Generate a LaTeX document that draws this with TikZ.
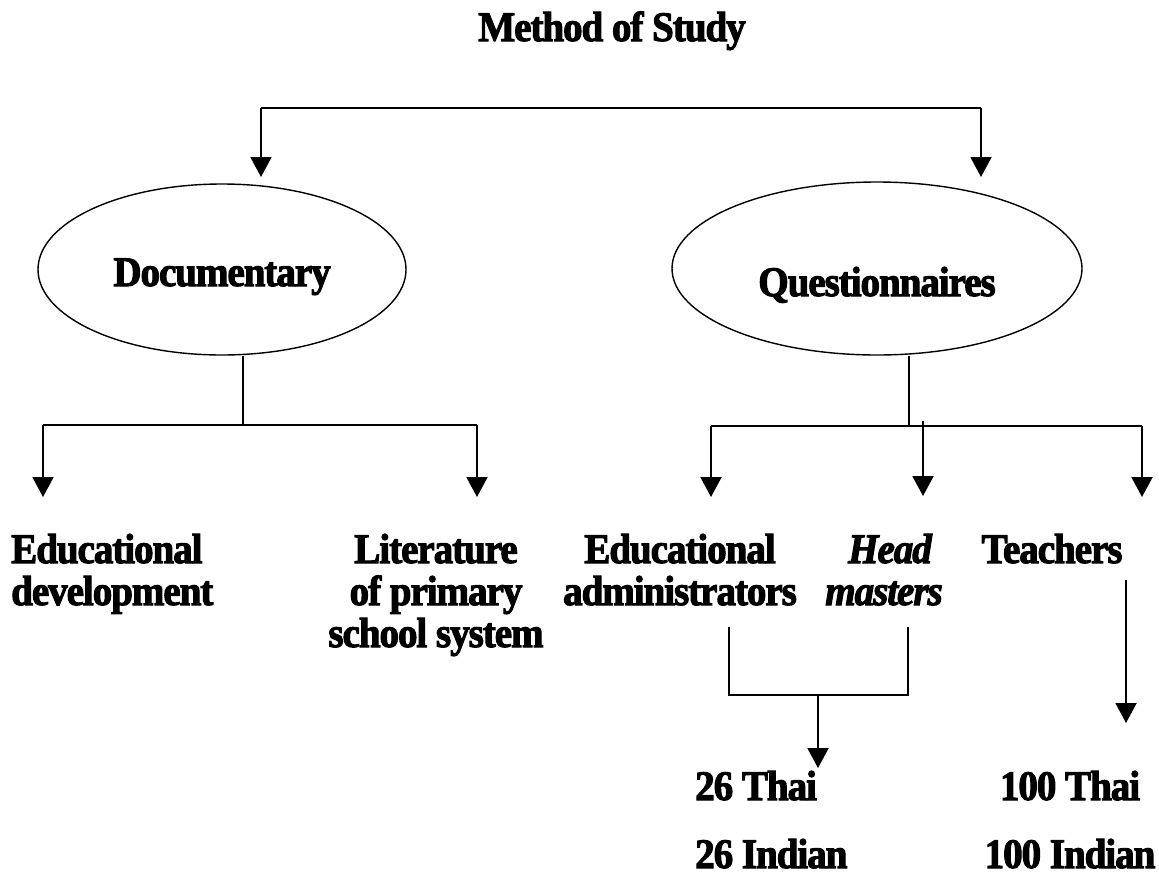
\documentclass[tikz,border=0pt]{standalone}
\usepackage{fontspec}
\setmainfont{Liberation Serif}[FakeStretch=0.93, LetterSpace=-2.5, BoldFeatures={FakeBold=2.5}, BoldItalicFeatures={FakeBold=2.5}]
\usetikzlibrary{arrows.meta,shapes.geometric}
\tikzset{
  lbl/.style={font=\bfseries\fontsize{42}{42}\selectfont, inner sep=0pt, anchor=base},
  oval/.style={ellipse, draw, line width=1.4pt, inner sep=0pt, font=\bfseries\fontsize{42}{42}\selectfont, text depth=0pt},
  ln/.style={line width=2pt},
  arr/.style={line width=2pt, -{Triangle[width=21pt,length=20pt]}},
}
\begin{document}
\begin{tikzpicture}[x=1pt,y=-1pt]
\useasboundingbox (0,0) rectangle (1159,876);
\node[lbl] (title) at (612,41) {Method of Study};
\node[oval, minimum width=368pt, minimum height=171pt, text height=33pt] (doc) at (222,269.5) {Documentary};
\node[oval, minimum width=410pt, minimum height=173pt, text height=55pt] (que) at (877,268.5) {Questionnaires};
% top split
\coordinate (tl) at (261,108);
\coordinate (tr) at (981,108);
\coordinate (tld) at (261,177);
\coordinate (trd) at (981,177);
\draw[ln] (tl) -- (tr);
\draw[arr] (tl) -- (tld);
\draw[arr] (tr) -- (trd);
% documentary branch
\coordinate (dj) at (243,425);
\coordinate (dl) at (43,425);
\coordinate (dr) at (477,425);
\coordinate (dld) at (43,497);
\coordinate (drd) at (477,497);
\draw[ln] (dj |- doc.south) -- (dj);
\draw[ln] (dl) -- (dr);
\draw[arr] (dl) -- (dld);
\draw[arr] (dr) -- (drd);
% (base anchor of a multi-line node = baseline of its last line)
\node[lbl, anchor=base west, align=left] (edev) at (11,605) {Educational\\development};
\node[lbl, align=center] (lit) at (436,647) {Literature\\of primary\\school system};
% questionnaire branch
\coordinate (qj) at (909,426);
\coordinate (ql) at (711,426);
\coordinate (qr) at (1142,426);
\coordinate (qm) at (923,421);
\coordinate (qld) at (711,497);
\coordinate (qrd) at (1142,497);
\coordinate (qmd) at (923,496);
\draw[ln] (qj |- que.south) -- (qj);
\draw[ln] (ql) -- (qr);
\draw[arr] (ql) -- (qld);
\draw[arr] (qr) -- (qrd);
\draw[arr] (qm) -- (qmd);
\node[lbl, align=center] (adm) at (680,605) {Educational\\administrators};
\node[lbl, align=center, font=\bfseries\itshape\fontsize{42}{42}\selectfont] (head) at (884,605) {\hspace*{12pt}Head\\masters};
\node[lbl] (teach) at (1052,563) {Teachers};
% lower bracket
\coordinate (ba) at (729,627);
\coordinate (bh) at (908,627);
\coordinate (bm) at (818,695);
\coordinate (bmd) at (818,768);
\draw[ln] (ba) -- (ba |- bm) -- (bh |- bm) -- (bh);
\draw[arr] (bm) -- (bmd);
\coordinate (ta) at (1126,580);
\coordinate (tad) at (1126,723);
\draw[arr] (ta) -- (tad);
\node[lbl, anchor=base west, align=left] (n26) at (695,868) {26 Thai\\[26pt]26 Indian};
\node[lbl, align=center] (n100) at (1070,868) {100 Thai\\[26pt]100 Indian};
\end{tikzpicture}
\end{document}
